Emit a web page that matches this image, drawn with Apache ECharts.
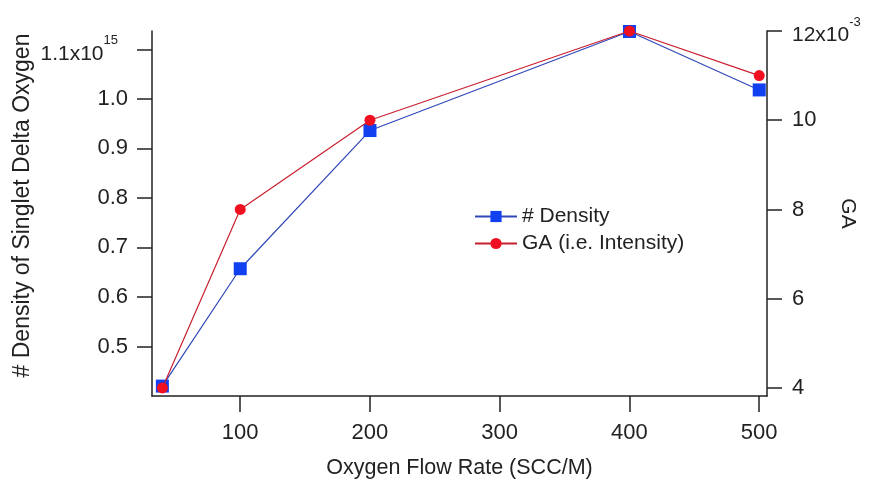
<!DOCTYPE html>
<html>
<head>
<meta charset="utf-8">
<script src="https://cdn.jsdelivr.net/npm/echarts@6/dist/echarts.min.js"></script>
<style>html,body{margin:0;padding:0;background:#fff}#c{width:873px;height:486px}</style>
</head>
<body>
<div id="c"></div>
<script>
const flowRate = [40, 100, 200, 400, 500];
const density = [0.420, 0.657, 0.936, 1.136, 1.018];   // x10^15
const gaValues = [4.0, 8.0, 10.0, 12.0, 11.0];         // x10^-3
const xTicks = [100, 200, 300, 400, 500];
const leftTicks = [0.5, 0.6, 0.7, 0.8, 0.9, 1.0, 1.1];
const rightTicks = [4, 6, 8, 10, 12];

const FONT = 'Liberation Sans';
const txt = '#222';
const axisCol = '#222';

const chart = echarts.init(document.getElementById('c'), null, {renderer: 'canvas'});
chart.setOption({
  animation: false,
  backgroundColor: '#fff',
  grid: {left: 152, right: 106, top: 31, bottom: 90, containLabel: false, outerBoundsMode: 'none'},
  legend: {
    left: 469, top: 201, orient: 'vertical', itemWidth: 42, itemHeight: 14, itemGap: 6,
    textStyle: {fontFamily: FONT, fontSize: 21, color: txt},
    data: ['# Density', 'GA (i.e. Intensity)']
  },
  xAxis: {
    type: 'value', min: 32, max: 506,
    name: 'Oxygen Flow Rate (SCC/M)', nameLocation: 'middle', nameGap: 61, nameMoveOverlap: false,
    nameTextStyle: {fontFamily: FONT, fontSize: 21.5, color: txt},
    axisLine: {show: true, lineStyle: {color: axisCol, width: 1.5}},
    axisTick: {show: true, inside: false, length: 16, customValues: xTicks, lineStyle: {color: axisCol, width: 1.5}},
    axisLabel: {customValues: xTicks, margin: 26, fontFamily: FONT, fontSize: 22, color: txt},
    splitLine: {show: false}
  },
  yAxis: [{
    type: 'value', position: 'left', min: 0.40, max: 1.137,
    name: '# Density of Singlet Delta Oxygen', nameLocation: 'middle', nameGap: 118, nameMoveOverlap: false,
    nameTextStyle: {fontFamily: FONT, fontSize: 23, color: txt, padding: [0, 0, 0, 16]},
    axisLine: {show: true, lineStyle: {color: axisCol, width: 1.5}},
    axisTick: {show: true, length: 15, customValues: leftTicks, lineStyle: {color: axisCol, width: 1.5}},
    axisLabel: {
      customValues: leftTicks, margin: 24, fontFamily: FONT, fontSize: 22, color: txt,
      formatter: v => Math.abs(v - 1.1) < 1e-6 ? '{a|1.1x10}{s|15}' : v.toFixed(1),
      rich: {
        a: {fontFamily: FONT, fontSize: 21, color: txt, verticalAlign: 'bottom', lineHeight: 30},
        s: {fontFamily: FONT, fontSize: 13, color: txt, verticalAlign: 'top', lineHeight: 30, padding: [0, 10, 0, 0]}
      }
    },
    splitLine: {show: false}
  }, {
    type: 'value', position: 'right', min: 3.82, max: 12,
    name: 'GA', nameLocation: 'middle', nameGap: 70, nameRotate: -90, nameMoveOverlap: false,
    nameTextStyle: {fontFamily: FONT, fontSize: 21, color: txt},
    axisLine: {show: true, lineStyle: {color: axisCol, width: 1.5}},
    axisTick: {show: true, length: 15, customValues: rightTicks, lineStyle: {color: axisCol, width: 1.5}},
    axisLabel: {
      customValues: rightTicks, margin: 25, fontFamily: FONT, fontSize: 22, color: txt,
      formatter: v => v === 12 ? '{a|12x10}{s|-3}' : String(v),
      rich: {
        a: {fontFamily: FONT, fontSize: 21, color: txt, verticalAlign: 'bottom', lineHeight: 30},
        s: {fontFamily: FONT, fontSize: 13, color: txt, verticalAlign: 'top', lineHeight: 30}
      }
    },
    splitLine: {show: false}
  }],
  series: [{
    name: '# Density', type: 'line', yAxisIndex: 0,
    data: flowRate.map((x, i) => [x, density[i]]),
    symbol: 'rect', symbolSize: 13,
    itemStyle: {color: '#1040f0'},
    lineStyle: {color: '#3048b8', width: 1.2},
    z: 2
  }, {
    name: 'GA (i.e. Intensity)', type: 'line', yAxisIndex: 1,
    data: flowRate.map((x, i) => [x, gaValues[i]]),
    symbol: 'circle', symbolSize: 11,
    itemStyle: {color: '#f01020'},
    lineStyle: {color: '#c82030', width: 1.2},
    z: 3
  }]
});
</script>
</body>
</html>
